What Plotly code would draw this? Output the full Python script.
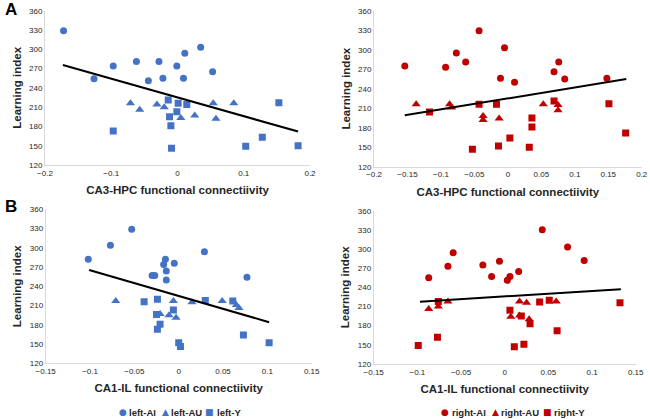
import plotly.graph_objects as go

# ---------------- data ----------------
# Panel A left: CA3-HPC (left hemisphere)
a_l_ai_x = [-0.172, -0.126, -0.097, -0.062, -0.044, -0.028, -0.022, -0.001, 0.011, 0.009, 0.035, 0.053]
a_l_ai_y = [329, 254, 274, 281, 251, 281, 255, 274, 294, 255, 303, 265]
a_l_au_x = [-0.071, -0.057, -0.031, -0.020, 0.005, 0.026, 0.054, 0.058, 0.085]
a_l_au_y = [216, 206, 214, 210, 193, 197, 216, 192, 216]
a_l_y_x = [-0.014, 0.001, 0.014, -0.001, -0.012, -0.010, -0.097, -0.009, 0.103, 0.128, 0.153, 0.182]
a_l_y_y = [221, 216, 214, 203, 195, 181, 173, 146, 149, 163, 217, 150]
a_l_trend_x = [-0.173, 0.182]
a_l_trend_y = [275.6, 172]

# Panel A right: CA3-HPC (right hemisphere)
a_r_ai_x = [-0.154, -0.093, -0.077, -0.063, -0.043, -0.005, -0.011, 0.010, 0.069, 0.076, 0.085, 0.148]
a_r_ai_y = [275, 273, 295, 281, 329, 303, 256, 250, 266, 281, 255, 256]
a_r_au_x = [-0.137, -0.087, -0.084, -0.037, -0.037, -0.013, 0.053, 0.075, 0.075]
a_r_au_y = [216, 216, 211, 198, 192, 194, 216, 215, 207]
a_r_y_x = [-0.117, -0.043, -0.017, 0.069, 0.151, 0.036, 0.036, 0.003, -0.014, -0.053, 0.032, 0.176]
a_r_y_y = [204, 216, 216, 221, 217, 195, 181, 164, 152, 147, 150, 172]
a_r_trend_x = [-0.154, 0.177]
a_r_trend_y = [199, 255]

# Panel B left: CA1-IL (left hemisphere)
b_l_ai_x = [-0.102, -0.077, -0.053, -0.030, -0.027, -0.017, -0.015, -0.014, -0.014, -0.005, 0.029, 0.077]
b_l_ai_y = [282, 304, 329, 257, 257, 274, 282, 264, 250, 276, 294, 254]
b_l_au_x = [-0.071, -0.006, 0.015, 0.049, 0.065, 0.068, -0.021, -0.011, -0.003]
b_l_au_y = [217, 217, 215, 217, 211, 206, 197, 195, 191]
b_l_y_x = [-0.039, -0.024, -0.025, -0.021, -0.024, -0.006, 0.000, 0.002, 0.030, 0.061, 0.073, 0.102]
b_l_y_y = [216, 220, 196, 181, 173, 203, 152, 146, 218, 217, 164, 152]
b_l_trend_x = [-0.101, 0.102]
b_l_trend_y = [265.5, 184]

# Panel B right: CA1-IL (right hemisphere)
b_r_ai_x = [-0.087, -0.065, -0.059, -0.025, -0.015, -0.006, 0.003, 0.006, 0.016, 0.043, 0.072, 0.091]
b_r_ai_y = [255, 273, 294, 275, 257, 281, 251, 257, 265, 330, 303, 282]
b_r_au_x = [-0.087, -0.076, -0.065, 0.017, 0.025, 0.059, 0.007, 0.017, 0.028]
b_r_au_y = [206, 210, 218, 218, 216, 218, 194, 196, 190]
b_r_y_x = [-0.099, -0.077, -0.076, 0.006, 0.019, 0.029, 0.011, 0.022, 0.040, 0.051, 0.060, 0.132]
b_r_y_y = [149, 162, 218, 204, 195, 183, 147, 151, 217, 220, 172, 216]
b_r_trend_x = [-0.097, 0.133]
b_r_trend_y = [217.6, 237]

left_names = ["left-AI", "left-AU", "left-Y"]
right_names = ["right-AI", "right-AU", "right-Y"]
x_titles = ["CA3-HPC functional connectiivity", "CA1-IL functional connectiivity"]
y_title = "Learning index"
panel_letters = ["A", "B"]

BLUE = "#4472C4"
RED = "#C00000"
symbols = ["circle", "triangle-up", "square"]
glyphs = ["\u25CF", "\u25B2", "\u25A0"]

panels = [
    ("", [(a_l_ai_x, a_l_ai_y), (a_l_au_x, a_l_au_y), (a_l_y_x, a_l_y_y)], (a_l_trend_x, a_l_trend_y),
     left_names, BLUE, [-0.2, 0.2], 0.1),
    ("2", [(a_r_ai_x, a_r_ai_y), (a_r_au_x, a_r_au_y), (a_r_y_x, a_r_y_y)], (a_r_trend_x, a_r_trend_y),
     right_names, RED, [-0.2, 0.2], 0.05),
    ("3", [(b_l_ai_x, b_l_ai_y), (b_l_au_x, b_l_au_y), (b_l_y_x, b_l_y_y)], (b_l_trend_x, b_l_trend_y),
     left_names, BLUE, [-0.15, 0.15], 0.05),
    ("4", [(b_r_ai_x, b_r_ai_y), (b_r_au_x, b_r_au_y), (b_r_y_x, b_r_y_y)], (b_r_trend_x, b_r_trend_y),
     right_names, RED, [-0.15, 0.15], 0.05),
]

W, H = 650, 419
def px(x0, x1):
    return [x0 / W, x1 / W]
def py(ytop, ybot):
    return [1 - ybot / H, 1 - ytop / H]

domains = [
    (px(45, 310), py(10.7, 165)),
    (px(374, 641.7), py(10.7, 166.7)),
    (px(45.7, 311.7), py(209.3, 363.3)),
    (px(373.7, 635.7), py(210.7, 364)),
]

fig = go.Figure()
FONT = "Liberation Sans, Arial, sans-serif"
TXT = "#262626"

for i, (ax, groups, trend, names, color, xr, dtick) in enumerate(panels):
    xref = "x" + ax
    yref = "y" + ax
    for (gx, gy), nm, sym in zip(groups, names, symbols):
        fig.add_trace(go.Scatter(
            x=gx, y=gy, mode="markers", name=nm,
            marker=dict(symbol=sym, color=color, size=7 if sym != "triangle-up" else 8, line=dict(width=0)),
            xaxis=xref, yaxis=yref, showlegend=False,
        ))
    fig.add_trace(go.Scatter(
        x=trend[0], y=trend[1], mode="lines", line=dict(color="black", width=2),
        xaxis=xref, yaxis=yref, showlegend=False, hoverinfo="skip",
    ))
    xd, yd = domains[i]
    fig.layout["xaxis" + ax] = dict(
        domain=xd, range=xr, dtick=dtick, tick0=0,
        showline=True, linecolor="#D9D9D9", linewidth=1, showgrid=False, zeroline=False,
        ticks="", tickfont=dict(size=8, color=TXT, family=FONT), automargin=False,
        title=dict(text="<b>%s</b>" % x_titles[i // 2], font=dict(size=11.5, color=TXT, family=FONT), standoff=9),
        anchor="y" + ax, fixedrange=True,
    )
    fig.layout["yaxis" + ax] = dict(
        domain=yd, range=[120, 360], dtick=30,
        showline=True, linecolor="#D9D9D9", linewidth=1, showgrid=False, zeroline=False,
        ticks="", tickfont=dict(size=8, color=TXT, family=FONT), automargin=False,
        title=dict(text="<b>%s</b>" % y_title, font=dict(size=11.5, color=TXT, family=FONT), standoff=5),
        anchor="x" + ax, fixedrange=True,
    )

# panel letters
for letter, ypix in zip(panel_letters, [9, 206]):
    fig.add_annotation(text="<b>%s</b>" % letter, x=3 / W, y=1 - ypix / H, xref="paper", yref="paper",
                       xanchor="left", yanchor="middle", showarrow=False,
                       font=dict(size=17, color="black", family=FONT))

# legends (as text)
leg_y = 1 - 412 / H
leg_specs = [
    (left_names, BLUE, [122.7, 165, 209.3], [126.5, 168.5, 214.5]),
    (right_names, RED, [445, 495, 547.7], [449.5, 498.5, 551.5]),
]
for names, color, gx, tx in leg_specs:
    for nm, g, gxp, txp in zip(names, glyphs, gx, tx):
        fig.add_annotation(text=g, x=gxp / W, y=leg_y, xref="paper", yref="paper",
                           xanchor="center", yanchor="middle", showarrow=False,
                           font=dict(size=9, color=color, family="DejaVu Sans"))
        fig.add_annotation(text="<b>%s</b>" % nm, x=txp / W, y=leg_y, xref="paper", yref="paper",
                           xanchor="left", yanchor="middle", showarrow=False,
                           font=dict(size=9.5, color=TXT, family=FONT))

fig.update_layout(
    width=W, height=H,
    margin=dict(l=0, r=0, t=0, b=0),
    paper_bgcolor="white", plot_bgcolor="white",
    showlegend=False,
)

fig.write_html("out.html", config={"displayModeBar": False},
               post_script="document.body.style.margin='0';document.body.style.overflow='hidden';")
